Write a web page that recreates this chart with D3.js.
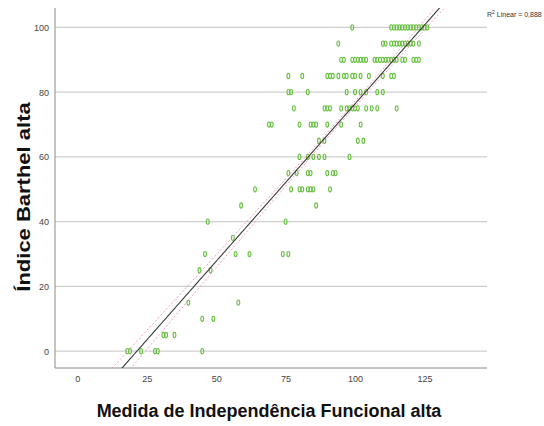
<!DOCTYPE html>
<html>
<head>
<meta charset="utf-8">
<script src="https://cdn.jsdelivr.net/npm/d3@7"></script>
<style>
  html, body { margin: 0; padding: 0; background: #fff; }
  svg { display: block; font-family: "Liberation Sans", Arial, sans-serif; }
</style>
</head>
<body>
<svg id="chart" width="544" height="426"></svg>
<script>
// ---- data ----
const barthelLevels = [100, 95, 90, 85, 80, 75, 70, 65, 60, 55, 50, 45, 40, 35, 30, 25, 15, 10, 5, 0];
const fimByLevel = [
  [99, 113, 114, 115, 116, 117, 118, 119, 120, 121, 122, 123, 124, 125, 126],
  [94, 110, 111, 113, 114, 115, 116, 117, 118, 119, 120, 121, 123],
  [95, 96, 99, 100, 101, 102, 103, 104, 107, 108, 109, 110, 111, 112, 113, 114, 115, 117, 118, 121, 122, 123],
  [76, 81, 90, 91, 92, 94, 96, 97, 99, 100, 102, 105, 110, 113, 114],
  [76, 77, 83, 97, 100, 102, 104, 108, 110],
  [78, 89, 90, 91, 95, 97, 98, 99, 100, 101, 104, 106, 108, 115],
  [69, 70, 80, 84, 85, 86, 90, 95, 102],
  [87, 89, 101, 103],
  [80, 83, 85, 87, 89, 98],
  [76, 79, 83, 84, 90, 92, 93],
  [64, 77, 80, 81, 83, 84, 85, 91],
  [59, 86],
  [47, 75],
  [56],
  [46, 57, 62, 74, 76],
  [44, 48],
  [40, 58],
  [45, 49],
  [31, 32, 35],
  [18, 19, 23, 28, 29, 45]
];
const xTicks = [0, 25, 50, 75, 100, 125];
const yTicks = [0, 20, 40, 60, 80, 100];
const fitSlope = 0.973;
const fitIntercept = -20.9;
const ciCenterX = 95;
const ciHalfAtCenter = 0.8;
const ciHalfGrowth = 0.04;
const r2Text = "0,888";
const xTitle = "Medida de Independência Funcional alta";
const yTitle = "Índice Barthel alta";

// ---- layout ----
const svg = d3.select("#chart");
const L = 55, R = 487, T = 8, B = 368;
const x = d3.scaleLinear().domain([-8, 147.5]).range([L, R]);
const y = d3.scaleLinear().domain([-5.2, 106]).range([B, T]);

svg.append("defs").append("clipPath").attr("id", "plotClip")
  .append("rect").attr("x", L).attr("y", T).attr("width", R - L).attr("height", B - T);

// gridlines
svg.append("g").selectAll("line").data(yTicks).join("line")
  .attr("x1", L).attr("x2", R)
  .attr("y1", d => y(d)).attr("y2", d => y(d))
  .attr("stroke", "#cfcfcf").attr("stroke-width", 1.2);

// axes
const yAxis = d3.axisLeft(y).tickValues(yTicks).tickSize(0).tickPadding(6);
const gy = svg.append("g").attr("transform", `translate(${L},0)`).call(yAxis);
gy.select(".domain").attr("stroke", "#8a8a8a").attr("d", `M0,${T}V${B}`);
gy.selectAll("text").attr("font-size", 9).attr("fill", "#444")
  .attr("font-family", "'Liberation Sans', Arial, sans-serif");

const xAxis = d3.axisBottom(x).tickValues(xTicks).tickSize(0).tickPadding(8);
const gx = svg.append("g").attr("transform", `translate(0,${B})`).call(xAxis);
gx.select(".domain").attr("stroke", "#8a8a8a").attr("d", `M${L},0H${R}`);
gx.selectAll("text").attr("font-size", 9).attr("fill", "#444")
  .attr("font-family", "'Liberation Sans', Arial, sans-serif");

// points
const points = [];
barthelLevels.forEach((lv, i) => fimByLevel[i].forEach(f => points.push({ fim: f, barthel: lv })));
svg.append("g").selectAll("ellipse").data(points).join("ellipse")
  .attr("cx", d => x(d.fim)).attr("cy", d => y(d.barthel))
  .attr("rx", 1.4).attr("ry", 2.6)
  .attr("fill", "none").attr("stroke", "#66bf3f").attr("stroke-width", 1.1);

// fit line and confidence band
const plotG = svg.append("g").attr("clip-path", "url(#plotClip)");
const xs = d3.range(-8, 148.01, 0.5);
const fit = v => fitIntercept + fitSlope * v;
const half = v => Math.sqrt(ciHalfAtCenter ** 2 + (ciHalfGrowth * (v - ciCenterX)) ** 2);
const line = d3.line().x(d => x(d[0])).y(d => y(d[1]));
[-1, 1].forEach(s => {
  plotG.append("path")
    .attr("d", line(xs.map(v => [v, fit(v) + s * half(v)])))
    .attr("fill", "none").attr("stroke", "#f28ca6").attr("stroke-width", 0.9)
    .attr("stroke-dasharray", "2,2");
});
plotG.append("path")
  .attr("d", line(xs.map(v => [v, fit(v)])))
  .attr("fill", "none").attr("stroke", "#3a3a3a").attr("stroke-width", 1.1);

// R² label
const r2 = svg.append("text").attr("x", 487).attr("y", 17)
  .attr("font-size", 7).attr("fill", "#333");
r2.append("tspan").text("R");
r2.append("tspan").attr("dy", -3).attr("font-size", 5).text("2");
r2.append("tspan").attr("dy", 3).text(" Linear = " + r2Text);

// titles
svg.append("text").attr("transform", "translate(269,417) scale(1,1.05)")
  .attr("text-anchor", "middle")
  .attr("font-size", 18).attr("font-weight", "bold").attr("fill", "#111")
  .text(xTitle);
svg.append("text").attr("transform", "translate(30,197) rotate(-90) scale(1.1,0.92)")
  .attr("text-anchor", "middle")
  .attr("font-size", 20).attr("font-weight", "bold").attr("fill", "#111")
  .text(yTitle);
</script>
</body>
</html>
